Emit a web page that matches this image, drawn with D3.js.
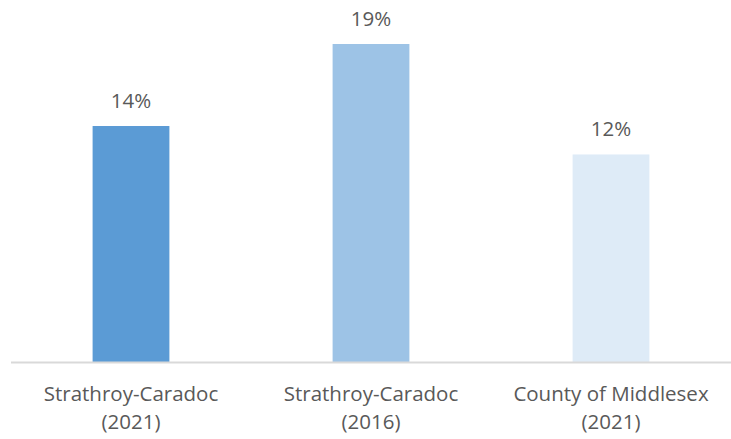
<!DOCTYPE html>
<html>
<head>
<meta charset="utf-8">
<script src="https://cdn.jsdelivr.net/npm/d3@7"></script>
<style>
  body { margin: 0; background: #fff; }
  text { font-family: "Open Sans", sans-serif; fill: #595959; }
</style>
</head>
<body>
<div id="chart"></div>
<script>
const categories = ["Strathroy-Caradoc (2021)", "Strathroy-Caradoc (2016)", "County of Middlesex (2021)"];
const labelLines = [["Strathroy-Caradoc", "(2021)"], ["Strathroy-Caradoc", "(2016)"], ["County of Middlesex", "(2021)"]];
const values = [0.141, 0.19, 0.124];
const valueLabels = ["14%", "19%", "12%"];
const colors = ["#5B9BD5", "#9DC3E6", "#DEEBF7"];

const width = 731, height = 439;
const baseY = 362;

const svg = d3.select("#chart").append("svg")
    .attr("width", width)
    .attr("height", height);

const x = d3.scaleBand()
    .domain(categories)
    .range([11, 731])
    .paddingInner(0.68)
    .paddingOuter(0.34);

// 19% sits at y=44
const y = d3.scaleLinear()
    .domain([0, 0.19])
    .range([baseY, 44]);

svg.append("g").selectAll("rect")
    .data(values)
    .enter().append("rect")
    .attr("x", (d, i) => x(categories[i]))
    .attr("y", d => y(d))
    .attr("width", x.bandwidth())
    .attr("height", d => baseY - y(d))
    .style("fill", (d, i) => colors[i]);

svg.append("line")
    .attr("x1", 11).attr("x2", 731)
    .attr("y1", baseY + 0.5).attr("y2", baseY + 0.5)
    .style("stroke", "#d9d9d9")
    .style("stroke-width", 2);

svg.append("g").selectAll("text")
    .data(values)
    .enter().append("text")
    .attr("x", (d, i) => x(categories[i]) + x.bandwidth() / 2)
    .attr("y", d => y(d) - 18)
    .attr("text-anchor", "middle")
    .style("font-size", "20.5px")
    .text((d, i) => valueLabels[i]);

const cat = svg.append("g").selectAll("text")
    .data(categories)
    .enter().append("text")
    .attr("x", d => x(d) + x.bandwidth() / 2)
    .attr("y", 401)
    .attr("text-anchor", "middle")
    .style("font-size", "20.5px");

cat.selectAll("tspan")
    .data((d, i) => labelLines[i])
    .enter().append("tspan")
    .attr("x", function() { return d3.select(this.parentNode).attr("x"); })
    .attr("dy", (d, j) => j === 0 ? 0 : 28)
    .text(d => d);
</script>
</body>
</html>
